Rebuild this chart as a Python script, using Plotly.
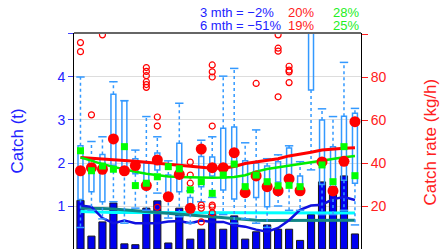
import plotly.graph_objects as go

# ---------------- data ----------------
months = [1, 2, 3, 4, 5, 6, 7, 8, 9, 10, 11, 12, 13, 14, 15, 16, 17, 18, 19, 20, 21, 22, 23, 24, 25, 26]

# monthly catch (t) - bars, left axis
catch_t = [1.13, 0.30, 0.63, 1.07, 0.12, 0.10, 0.95, 1.12, 0.14, 0.95, 0.23, 0.46, 0.87,
           0.46, 0.77, 0.23, 0.40, 0.56, 0.46, 0.46, 0.20, 0.80, 1.56, 1.45, 1.70, 0.35]
# smoothed catch (t)
catch_smooth = [1.01, 0.98, 0.72, 0.60, 0.66, 0.60, 0.60, 0.60, 0.64, 0.65, 0.60, 0.66, 0.63,
                0.63, 0.55, 0.52, 0.45, 0.40, 0.49, 0.67, 0.91, 1.01, 1.03, 1.16, 1.21, 1.14]
catch_mean = [0.87, 0.86, 0.85, 0.85, 0.85, 0.85, 0.85, 0.84, 0.84, 0.84, 0.84, 0.84, 0.84,
              0.84, 0.84, 0.84, 0.84, 0.84, 0.84, 0.84, 0.84, 0.84, 0.84, 0.84, 0.84, 0.84]
catch_trend = [0.95, 0.95, 0.94, 0.93, 0.91, 0.88, 0.86, 0.84, 0.83, 0.81, 0.79, 0.77, 0.75,
               0.72, 0.70, 0.68, 0.67, 0.66, 0.66, 0.66, 0.66, 0.66, 0.67, 0.67, 0.67, 0.67]

# catch rate distribution (kg/h) - right axis
rate_q1 = [23, 26.6, 22, 39, 36, 35, 28, 36.8, 24.4, 26.6, 19, 29, 34,
           27.4, 23.2, 26, 24, 19.6, 31.2, 30.6, 28.8, 74, 30, 26, 32, 30.6]
rate_q3 = [48, 41.4, 44, 72, 69, 42, 40, 44.6, 34.4, 49.2, 24, 43, 42.8,
           56.2, 56.8, 41, 40, 38.6, 40.6, 47, 34, 112, 60, 47.6, 61.8, 63.2]
rate_lo = [10, 18, 14, 22, 12, 19, 18, 26, 14.4, 15, 12, 22, 24,
           16, 12, 14, 12, 10, 20, 18, 18, 36.8, 16, 16, 18, 11.2]
rate_hi = [80, 50, 52.2, 77.8, 69, 46, 61.6, 52.2, 41, 67.8, 27, 50.6, 52.2,
           80.4, 84, 49.4, 55.4, 42, 43.8, 48, 40.6, 112, 65.2, 61.6, 86.8, 65.4]
rate_out = [[91.8, 96], [62.4], [99.6], [], [], [], [75.2, 76.5, 77.8, 80.6, 82.6, 84.4],
            [19.4, 57.2, 61.4], [], [], [30.6, 34.4, 40.4], [12.6, 19, 20.4],
            [16.8, 19.6, 20.4, 57.2, 80, 82.4, 85.6], [], [], [], [77], [],
            [70.8, 92, 93.4, 99.6], [77.4, 82.4, 83.2, 85], [], [], [], [], [], []]

rate_mean = [36.4, 37.8, 37.1, 51.2, 36.4, 38.8, 29.5, 41.4, 24.3, 34.7, 18.9, 46.5, 37.8,
             37.8, 44.8, 26.2, 34.0, 29.0, 27.1, 32.6, 27.1, None, 40.5, 27.0, 40.8, 59.2]
rate_alt = [45.7, 36.4, 38.6, 37.1, 47.6, 29.5, 30.6, 33.6, 38.3, 37.3, 27.5, 31.3, 25.9,
            34.4, 39.5, 29.0, 34.4, 31.3, 29.4, 29.6, 29.0, None, 39.1, 31.3, 47.6, 34.1]
rate_mean_trend = [42.6, 42.3, 42.0, 41.6, 41.2, 40.8, 40.4, 40.0, 39.5, 39.0, 38.5, 38.0, 37.6,
                   37.6, 38.4, 39.8, 40.6, 41.3, 42.0, 43.3, 44.0, 45.0, 46.0, 46.5, 46.9, 47.1]
rate_alt_trend = [42.6, 41.0, 39.5, 38.2, 37.0, 35.9, 35.0, 34.3, 33.7, 33.5, 33.3, 33.2, 33.1,
                  33.2, 33.5, 34.3, 36.0, 37.2, 38.0, 38.7, 39.4, 40.3, 41.3, 42.0, 42.7, 43.3]

# summary changes (%)
catch_change = {"3 mth": -2, "6 mth": -51}
mean_change = {"3 mth": 20, "6 mth": 19}
alt_change = {"3 mth": 28, "6 mth": 25}

# ---------------- styles ----------------
FONT = "Liberation Sans, Arial, sans-serif"
BOXC = "#3399FF"
BLUE = "#2222FF"

fig = go.Figure()

fig.add_trace(go.Bar(x=months, y=catch_t, width=0.65,
                     marker=dict(color="#0000F0", line=dict(color="#1a1a1a", width=1)),
                     yaxis="y"))
fig.add_trace(go.Scatter(x=months, y=catch_mean, mode="lines",
                         line=dict(color="#00FFFF", width=3), yaxis="y"))
fig.add_trace(go.Scatter(x=months, y=catch_trend, mode="lines",
                         line=dict(color="#108585", width=3), yaxis="y"))
fig.add_trace(go.Scatter(x=months, y=catch_smooth, mode="lines",
                         line=dict(color="#1010E0", width=2.5), yaxis="y"))

# boxes
box_h = [b - a for a, b in zip(rate_q1, rate_q3)]
fig.add_trace(go.Bar(x=months, y=box_h, base=rate_q1, width=0.45,
                     marker=dict(color="rgba(255,255,255,0)", line=dict(color=BOXC, width=1.5)),
                     yaxis="y2"))
# whiskers
wx, wy = [], []
for m, a, b, lo, hi in zip(months, rate_q1, rate_q3, rate_lo, rate_hi):
    wx += [m, m, None, m, m, None]
    wy += [b, hi, None, a, lo, None]
fig.add_trace(go.Scatter(x=wx, y=wy, mode="lines",
                         line=dict(color=BOXC, width=1.5, dash="dot"), yaxis="y2"))
fig.add_trace(go.Scatter(x=months + months, y=rate_hi + rate_lo, mode="markers",
                         marker=dict(symbol="line-ew", size=6,
                                     line=dict(color=BOXC, width=1.5)), yaxis="y2"))
# outliers
ox, oy = [], []
for m, vals in zip(months, rate_out):
    for v in vals:
        ox.append(m)
        oy.append(v)
fig.add_trace(go.Scatter(x=ox, y=oy, mode="markers",
                         marker=dict(symbol="circle-open", size=6, color="#FF0000",
                                     line=dict(width=1.2)), yaxis="y2"))

fig.add_trace(go.Scatter(x=months, y=rate_mean_trend, mode="lines",
                         line=dict(color="#FF0000", width=3), yaxis="y2"))
fig.add_trace(go.Scatter(x=months, y=rate_alt_trend, mode="lines",
                         line=dict(color="#00EE00", width=2.5), yaxis="y2"))
fig.add_trace(go.Scatter(x=months, y=rate_mean, mode="markers",
                         marker=dict(symbol="circle", size=11, color="#FF0000"), yaxis="y2"))
fig.add_trace(go.Scatter(x=months, y=rate_alt, mode="markers",
                         marker=dict(symbol="square", size=7, color="#00FF00"), yaxis="y2"))

annotations = [
    dict(text="Catch (t)", x=-0.1986, y=0.498, textangle=-90,
         font=dict(size=17, color=BLUE)),
    dict(text="Catch rate (kg/h)", x=1.2404, y=0.498, textangle=-90,
         font=dict(size=17, color="#FF2020")),
]
rows = [("3 mth", 1.0972), ("6 mth", 1.0347)]
for key, yy in rows:
    annotations.append(dict(text=f"{key} = \u2212{abs(catch_change[key])}%" if catch_change[key] < 0
                            else f"{key} = {catch_change[key]}%",
                            x=0.436, y=yy, xanchor="left", font=dict(size=13, color=BLUE)))
    annotations.append(dict(text=f"{mean_change[key]}%", x=0.742, y=yy, xanchor="left",
                            font=dict(size=13, color="#FF2020")))
    annotations.append(dict(text=f"{alt_change[key]}%", x=0.899, y=yy, xanchor="left",
                            font=dict(size=13, color="#22EE22")))
for a in annotations:
    a.update(xref="paper", yref="paper", showarrow=False, yanchor="middle", borderpad=0)
    a.setdefault("xanchor", "center")

fig.update_layout(
    template="none",
    width=440, height=249,
    margin=dict(l=74, r=79, t=33, b=0, pad=0),
    paper_bgcolor="white", plot_bgcolor="white",
    showlegend=False, barmode="overlay",
    font=dict(family=FONT),
    xaxis=dict(range=[0.41, 26.55], visible=False, automargin=False),
    yaxis=dict(range=[0, 5.023], tickvals=[1, 2, 3, 4, 5], ticktext=["1", "2", "3", "4", ""],
               ticks="outside", ticklen=5, tickwidth=1.2, tickcolor="#4444FF",
               tickfont=dict(size=14, color=BLUE, family=FONT),
               showline=True, linecolor="black", linewidth=1,
               showgrid=True, gridcolor="#DDDDDD", gridwidth=1, zeroline=False, automargin=False),
    yaxis2=dict(range=[0, 100.47], overlaying="y", side="right",
                tickvals=[20, 40, 60, 80, 100], ticktext=["20", "40", "60", "80", ""],
                ticks="outside", ticklen=6, tickwidth=1.2, tickcolor="#FF2020",
                tickfont=dict(size=14, color="#FF2020", family=FONT),
                showline=True, linecolor="black", linewidth=1,
                showgrid=False, zeroline=False, automargin=False),
    annotations=annotations,
    shapes=[dict(type="line", xref="paper", yref="paper", x0=0, x1=1, y0=1, y1=1,
                 line=dict(color="#666666", width=2))],
)

fig.write_html("out.html",
               config={"displayModeBar": False},
               post_script="document.body.style.margin='0';document.body.style.overflow='hidden';")
